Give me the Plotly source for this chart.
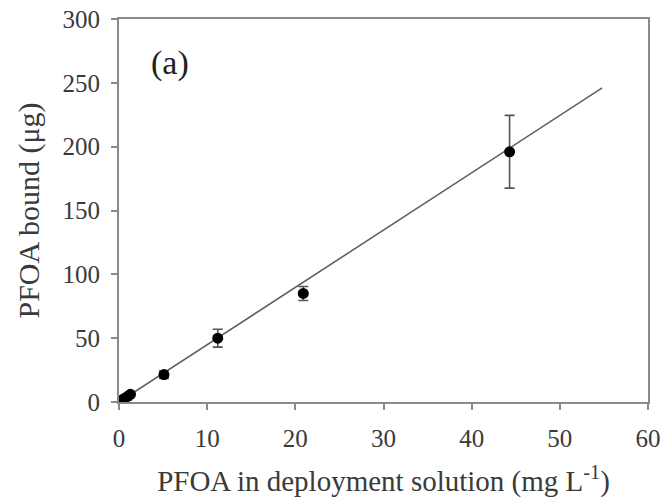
import plotly.graph_objects as go

# PFOA in deployment solution (mg/L) vs PFOA bound (ug)
conc = [0.05, 0.3, 0.6, 1.0, 1.3, 5.1, 11.2, 20.9, 44.3]
bound = [0.3, 1.3, 2.8, 4.5, 6.0, 21.5, 50.0, 85.0, 196.0]
bound_err = [0.3, 0.5, 0.8, 1.0, 1.2, 3.0, 7.0, 5.5, 28.5]

# Linear fit line endpoints
fit_x = [0.0, 54.8]
fit_y = [0.0, 246.0]

x_ticks = [0, 10, 20, 30, 40, 50, 60]
y_ticks = [0, 50, 100, 150, 200, 250, 300]

font_family = "Liberation Serif"
text_color = "#3a3a3a"
axis_color = "#8a8a8a"

fig = go.Figure()

fig.add_trace(go.Scatter(
    x=fit_x, y=fit_y, mode="lines",
    line=dict(color="#606060", width=1.6),
    hoverinfo="skip", showlegend=False,
))

fig.add_trace(go.Scatter(
    x=conc, y=bound, mode="markers",
    marker=dict(color="black", size=11, symbol="circle"),
    error_y=dict(type="data", array=bound_err, visible=True,
                 color="#555555", thickness=1.6, width=5),
    showlegend=False,
))

fig.add_annotation(
    x=0.096, y=0.885, xref="paper", yref="paper",
    xanchor="center", yanchor="middle",
    text="(a)", showarrow=False,
    font=dict(family=font_family, size=34, color="#222222"),
)

axis_common = dict(
    showgrid=False, zeroline=False, automargin=False,
    showline=True, linecolor=axis_color, linewidth=2, mirror=True,
    ticks="outside", ticklen=6, tickwidth=1.5, tickcolor=axis_color,
    tickfont=dict(family=font_family, size=25, color=text_color),
)

fig.update_xaxes(
    range=[0, 60], tickvals=x_ticks, ticktext=[str(v) for v in x_ticks],
    ticklabelstandoff=7,
    title=dict(text="PFOA in deployment solution (mg L<sup>-1</sup>)",
               font=dict(family=font_family, size=29, color=text_color),
               standoff=20),
    **axis_common,
)
fig.update_yaxes(
    range=[0, 300], tickvals=y_ticks, ticktext=[str(v) for v in y_ticks],
    ticklabelstandoff=6,
    title=dict(text="PFOA bound (μg)",
               font=dict(family=font_family, size=30, color=text_color),
               standoff=14),
    **axis_common,
)

fig.update_layout(
    width=664, height=501,
    margin=dict(l=119, r=16, t=19, b=99),
    paper_bgcolor="white", plot_bgcolor="white",
)

fig.write_html("out.html")
